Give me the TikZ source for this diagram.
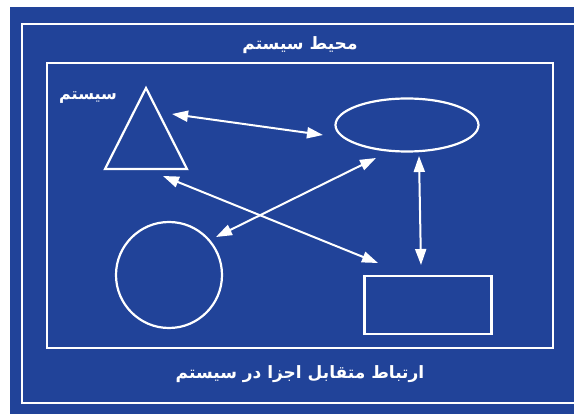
\documentclass[tikz,border=0pt]{standalone}
\usepackage{fontspec}
\usetikzlibrary{arrows.meta,shapes.geometric}
\newfontfamily\arabicfont[Script=Arabic]{DejaVu Sans}
\TeXXeTstate=1
\definecolor{sysblue}{RGB}{33,67,153}

\begin{document}
\begin{tikzpicture}[
x=1pt,y=-1pt,
shp/.style={draw=white,line width=2.2pt,inner sep=0pt},
arr/.style={{Triangle[length=16pt,width=11pt]}-{Triangle[length=16pt,width=11pt]},white,line width=2pt},
lab/.style={text=white,font=\arabicfont\bfseries\fontsize{17}{19}\selectfont,inner sep=0pt}
]
\clip (0,0) rectangle (574,414);
\fill[sysblue] (10,7) rectangle (590,420);
\draw[white,line width=2.5pt] (22,24) rectangle (590,403);
\draw[white,line width=2.5pt] (47,63) rectangle (553,348);

\node[lab] (env) at (300,45) {\beginR محیط سیستم\endR};
\node[lab,font=\arabicfont\bfseries\fontsize{16}{18}\selectfont] (sys) at (88,98) {\beginR سیستم\endR};
\node[lab] (inter) at (300,374) {\beginR ارتباط متقابل اجزا در سیستم\endR};

% parts of the system
\coordinate (tri1) at (146,88);
\coordinate (tri2) at (105,169);
\coordinate (tri3) at (187,169);
\draw[shp,line join=miter] (tri1) -- (tri2) -- (tri3) -- cycle;
\node[shp,ellipse,minimum width=143pt,minimum height=53pt] (ell) at (407,125) {};
\node[shp,circle,minimum size=106pt] (circ) at (169,275) {};
\node[shp,rectangle,minimum width=127pt,minimum height=58pt] (box) at (428,305) {};

% ends of the links
\coordinate (a1) at (172,114);
\coordinate (a2) at (323,135);
\coordinate (b1) at (376,158);
\coordinate (b2) at (216,237);
\coordinate (c1) at (163,176);
\coordinate (c2) at (378,263);
\coordinate (d1) at (419,156);
\coordinate (d2) at (421,265);

\draw[arr] (a1) -- (a2);
\draw[arr] (b1) -- (b2);
\draw[arr] (c1) -- (c2);
\draw[arr] (d1) -- (d2);
\end{tikzpicture}
\end{document}
